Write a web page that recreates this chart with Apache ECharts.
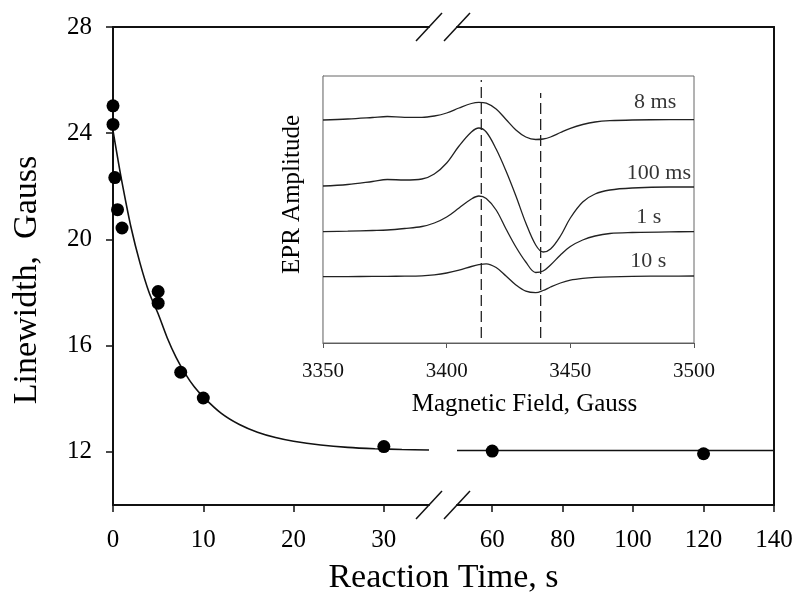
<!DOCTYPE html>
<html>
<head>
<meta charset="utf-8">
<script src="https://cdn.jsdelivr.net/npm/echarts@6.0.0/dist/echarts.min.js"></script>
<style>
  html, body { margin: 0; padding: 0; background: #fff; }
  #main { width: 797px; height: 608px; }
</style>
</head>
<body>
<div id="main"></div>
<script>
// measured linewidths (Gauss) against reaction time (s)
var timeEarly = [0, 0, 0.2, 0.5, 1, 5, 5, 7.5, 10, 30];
var widthEarly = [25.03, 24.33, 22.33, 21.12, 20.43, 18.04, 17.6, 15.0, 14.03, 12.2];
var timeLate = [60, 120];
var widthLate = [12.03, 11.93];

// fitted decay curve
var fitTimeEarly = [0, 0.5, 1, 2, 3, 4, 5, 6, 7, 8, 9, 10, 12, 14, 16, 18, 20, 23, 26, 29, 32, 35];
var fitWidthEarly = [24.1, 23.1, 22.15, 20.45, 19.1, 18.0, 17.2, 16.3, 15.55, 14.95, 14.45, 14.07,
                     13.45, 13.03, 12.74, 12.54, 12.4, 12.26, 12.17, 12.12, 12.09, 12.07];
var fitTimeLate = [50, 140];
var fitWidthLate = [12.05, 12.05];

// inset: EPR spectra (arbitrary amplitude units)
var field = [3350, 3360, 3370, 3376, 3383, 3390, 3395, 3400, 3405, 3410, 3413, 3416, 3420, 3424,
             3428, 3432, 3436, 3439, 3442, 3446, 3450, 3455, 3460, 3466, 3475, 3490, 3500];
var amp8ms = [223, 224, 225.5, 226.5, 225.6, 225.6, 227, 230, 235, 239.5, 240.7, 239.8, 234, 223.5,
              213, 206, 203.5, 204, 206, 210.5, 214.7, 218.5, 221, 222.3, 223, 223.3, 223.3];
var amp100ms = [157, 158.5, 161.5, 163.5, 163, 164, 169, 180, 197, 211, 215, 211, 194, 172,
                147, 120, 98, 91, 94, 107, 125, 141, 149, 153, 155, 156, 156];
var amp1s = [111.3, 111.8, 112.5, 113, 114.5, 116.5, 120, 126, 135, 144, 147, 144.5, 133, 114,
             96, 81, 70.5, 72, 78, 88, 96.5, 103, 107, 109.5, 110.5, 111.2, 111.3];
var amp10s = [66.3, 66.4, 66.6, 66.7, 66.8, 67.2, 68.2, 70, 72.8, 76.5, 78.3, 79.2, 75.5, 67,
              58, 51.8, 50.3, 52.5, 56, 60, 62.8, 64.6, 65.6, 66.2, 66.6, 66.9, 67];

var spectrumNames = ['8 ms', '100 ms', '1 s', '10 s'];
var labelField = [3493, 3499, 3487, 3489];
var labelAmp = [241, 170, 126, 82];

var dashField = [3414, 3438];
var dashFrom = [5, 5];
var dashTo = [263, 250];

var xTicksEarly = [0, 10, 20, 30];
var xTicksLate = [60, 80, 100, 120, 140];
var yTicks = [12, 16, 20, 24, 28];
var fieldTicks = [3350, 3400, 3450, 3500];

var FONT = "'Liberation Serif', 'Times New Roman', serif";
var INK = '#111';

function pairs(xs, ys) {
  return xs.map(function (x, i) { return [x, ys[i]]; });
}
function plain(v) { return String(v); }

var chart = echarts.init(document.getElementById('main'), null, { renderer: 'canvas' });

var mainLine = { lineStyle: { color: INK, width: 2 } };
var frameOnly = {
  axisLine: mainLine,
  axisTick: { show: false },
  axisLabel: { show: false },
  splitLine: { show: false }
};

var xAxes = [
  { // 0: early part, bottom
    type: 'value', gridIndex: 0, min: 0, max: 35, position: 'bottom',
    axisLine: mainLine,
    axisTick: { length: 7, lineStyle: { color: INK, width: 1.5 }, customValues: xTicksEarly },
    axisLabel: { customValues: xTicksEarly, margin: 23, fontFamily: FONT, fontSize: 25, color: '#000' },
    splitLine: { show: false }
  },
  { // 1: late part, bottom
    type: 'value', gridIndex: 1, min: 50, max: 140, position: 'bottom',
    axisLine: mainLine,
    axisTick: { length: 7, lineStyle: { color: INK, width: 1.5 }, customValues: xTicksLate },
    axisLabel: { customValues: xTicksLate, margin: 23, fontFamily: FONT, fontSize: 25, color: '#000' },
    splitLine: { show: false }
  },
  Object.assign({ type: 'value', gridIndex: 0, min: 0, max: 35, position: 'top' }, frameOnly),
  Object.assign({ type: 'value', gridIndex: 1, min: 50, max: 140, position: 'top' }, frameOnly),
  { // 4: inset field axis
    type: 'value', gridIndex: 2, min: 3350, max: 3500,
    name: 'Magnetic Field, Gauss', nameLocation: 'middle', nameGap: 49,
    nameTextStyle: { fontFamily: FONT, fontSize: 25, color: '#000', padding: [0, 0, 0, 32] },
    axisLine: { lineStyle: { color: '#555', width: 1.2 } },
    axisTick: { length: 5, lineStyle: { color: '#555' }, customValues: fieldTicks },
    axisLabel: { customValues: fieldTicks, formatter: plain, margin: 18,
                 fontFamily: FONT, fontSize: 21, color: '#111' },
    splitLine: { show: false }
  }
];

var yAxes = [
  { // 0: linewidth
    type: 'value', gridIndex: 0, min: 10, max: 28, position: 'left',
    name: 'Linewidth,  Gauss', nameLocation: 'middle', nameGap: 69,
    nameTextStyle: { fontFamily: FONT, fontSize: 34, color: '#000', padding: [0, 28, 0, 0] },
    axisLine: mainLine,
    axisTick: { length: 7, lineStyle: { color: INK, width: 1.5 }, customValues: yTicks },
    axisLabel: { customValues: yTicks, margin: 21, fontFamily: FONT, fontSize: 25, color: '#000' },
    splitLine: { show: false }
  },
  Object.assign({ type: 'value', gridIndex: 1, min: 10, max: 28, position: 'right' }, frameOnly),
  { // 2: inset amplitude
    type: 'value', gridIndex: 2, min: 0, max: 267,
    name: 'EPR Amplitude', nameLocation: 'middle', nameGap: 18,
    nameTextStyle: { fontFamily: FONT, fontSize: 25, color: '#000', padding: [0, 0, 0, 30] },
    axisLine: { lineStyle: { color: '#555', width: 1.2 } },
    axisTick: { show: false },
    axisLabel: { show: false },
    splitLine: { show: false }
  }
];

var spectra = [amp8ms, amp100ms, amp1s, amp10s];
var series = [];

series.push({
  type: 'line', xAxisIndex: 0, yAxisIndex: 0, data: pairs(fitTimeEarly, fitWidthEarly),
  showSymbol: false, smooth: 0.3, lineStyle: { color: INK, width: 1.6 }, z: 3
});
series.push({
  type: 'line', xAxisIndex: 1, yAxisIndex: 1, data: pairs(fitTimeLate, fitWidthLate),
  showSymbol: false, lineStyle: { color: INK, width: 1.6 }, z: 3
});
series.push({
  type: 'scatter', xAxisIndex: 0, yAxisIndex: 0, data: pairs(timeEarly, widthEarly),
  symbolSize: 13, itemStyle: { color: '#000', opacity: 1 }, z: 4
});
series.push({
  type: 'scatter', xAxisIndex: 1, yAxisIndex: 1, data: pairs(timeLate, widthLate),
  symbolSize: 13, itemStyle: { color: '#000', opacity: 1 }, z: 4
});

spectra.forEach(function (amp) {
  series.push({
    type: 'line', xAxisIndex: 4, yAxisIndex: 2, data: pairs(field, amp),
    showSymbol: false, smooth: 0.35, lineStyle: { color: '#222', width: 1.3 }, z: 5
  });
});

dashField.forEach(function (f, i) {
  series.push({
    type: 'line', xAxisIndex: 4, yAxisIndex: 2,
    data: [[f, dashFrom[i]], [f, dashTo[i]]],
    showSymbol: false, lineStyle: { color: '#222', width: 1.3, type: [11, 5] }, z: 5
  });
});

series.push({
  type: 'scatter', xAxisIndex: 4, yAxisIndex: 2,
  data: spectrumNames.map(function (n, i) { return { name: n, value: [labelField[i], labelAmp[i]] }; }),
  symbolSize: 1, itemStyle: { color: 'transparent' },
  label: {
    show: true, position: 'left', distance: 0, formatter: '{b}',
    fontFamily: FONT, fontSize: 22, color: '#000'
  },
  z: 6
});

chart.setOption({
  animation: false,
  backgroundColor: '#fff',
  grid: [
    { left: 113, top: 27, width: 316, height: 478 },
    { left: 457, top: 27, width: 317, height: 478 },
    { left: 323, top: 76, width: 371, height: 267, show: true,
      borderColor: '#666', borderWidth: 1, backgroundColor: '#fff', z: 2 }
  ],
  xAxis: xAxes,
  yAxis: yAxes,
  series: series
});

// break marks and the shared x title, placed from the axes
var xEnd = chart.convertToPixel({ xAxisIndex: 0 }, 35);
var xStart = chart.convertToPixel({ xAxisIndex: 1 }, 50);
var xRight = chart.convertToPixel({ xAxisIndex: 1 }, 140);
var xLeft = chart.convertToPixel({ xAxisIndex: 0 }, 0);
var yTop = chart.convertToPixel({ yAxisIndex: 0 }, 28);
var yBottom = chart.convertToPixel({ yAxisIndex: 0 }, 10);

var graphics = [];
[xEnd, xStart].forEach(function (cx) {
  [yTop, yBottom].forEach(function (cy) {
    graphics.push({
      type: 'line',
      shape: { x1: cx - 13, y1: cy + 14, x2: cx + 13, y2: cy - 14 },
      style: { stroke: INK, lineWidth: 1.5 },
      z: 10
    });
  });
});
graphics.push({
  type: 'text',
  x: (xLeft + xRight) / 2,
  y: yBottom + 73,
  style: {
    text: 'Reaction Time, s', font: '34px ' + FONT, fill: '#000',
    textAlign: 'center', textVerticalAlign: 'middle'
  }
});
chart.setOption({ graphic: graphics });

window.onresize = chart.resize;
</script>
</body>
</html>
